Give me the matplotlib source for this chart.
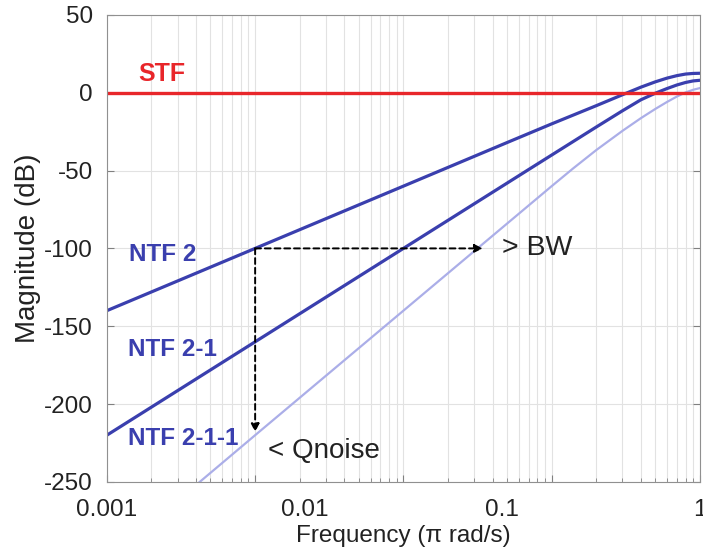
import numpy as np
import matplotlib
matplotlib.use('Agg')
import matplotlib.pyplot as plt
from matplotlib.ticker import LogLocator, NullLocator, NullFormatter

plt.rcParams['font.family'] = ['Liberation Sans', 'DejaVu Sans']
plt.rcParams['axes.unicode_minus'] = False

# curves (frequency in grid units, magnitude in dB)
stf_f = [1e-4, 1.0]
stf_db = [0, 0]

ntf2_f = [1e-4, 1e-3, 1e-2, 0.05, 0.1, 0.2, 0.3, 0.4, 0.5, 0.6, 0.7, 0.8, 0.9, 1.0]
ntf2_db = [-140, -100, -60, -32, -20, -8.3, -1.3, 3.6, 7.0, 9.4, 11.0, 12.0, 12.4, 12.5]

ntf21_f = [1e-4, 1e-3, 1e-2, 0.07, 0.13, 0.2, 0.3, 0.4, 0.5, 0.6, 0.7, 0.8, 0.9, 1.0]
ntf21_db = [-220, -160, -100, -49.3, -33.2, -22, -11.6, -4.5, -0.3, 2.7, 5, 6.6, 7.6, 8]

ntf211_f = [3e-4, 1e-3, 1e-2, 0.0316, 0.1, 0.14, 0.2, 0.3, 0.4, 0.5, 0.6, 0.7, 0.8, 0.9, 1.0]
ntf211_db = [-262, -220, -140, -100, -60, -48.5, -36.8, -24.5, -16.3, -10.4, -5.9, -2.4, 0.2, 1.9, 3]

label_ticks = [1e-3, 1e-2, 1e-1, 1]
label_text = ['0.001', '0.01', '0.1', '1']
y_ticks = [50, 0, -50, -100, -150, -200, -250]

blue = '#3a3fae'
light_blue = '#abaee8'
red = '#e8262a'

fig = plt.figure(figsize=(7.03, 5.52), dpi=100)
ax = fig.add_axes([0.152, 0.127, 0.8437, 0.846])

ax.plot(ntf211_f, ntf211_db, color=light_blue, lw=1.6)
ax.plot(ntf21_f, ntf21_db, color=blue, lw=2.3)
ax.plot(ntf2_f, ntf2_db, color=blue, lw=2.3)
ax.plot(stf_f, stf_db, color=red, lw=2.4)

ax.set_xscale('log')
ax.set_xlim(1e-4, 1)
ax.set_ylim(-250, 50)
ax.set_yticks(y_ticks)
ax.set_yticklabels([str(v) for v in y_ticks])
ax.xaxis.set_major_locator(LogLocator(base=10, numticks=10))
ax.xaxis.set_minor_locator(LogLocator(base=10, subs=np.arange(2, 10), numticks=20))
ax.xaxis.set_minor_formatter(NullFormatter())
ax.grid(True, which='both', color='#e2e2e2', lw=0.8)
ax.set_axisbelow(True)
ax.tick_params(which='both', direction='in', top=True, right=True,
               labelbottom=False, colors='#808080', labelcolor='#222222',
               labelsize=17.5, pad=10)
ax.tick_params(which='major', length=5)
ax.tick_params(which='minor', length=3)
for s in ax.spines.values():
    s.set_color('#909090')
ax.set_ylabel('Magnitude (dB)', fontsize=20, color='#222222', labelpad=2)

# frequency labels as printed in the original (spread evenly over the axis)
ax2 = ax.twiny()
ax2.set_xscale('log')
ax2.set_xlim(1e-3, 1)
ax2.xaxis.set_ticks_position('bottom')
ax2.xaxis.set_label_position('bottom')
ax2.set_xticks(label_ticks)
ax2.set_xticklabels(label_text)
ax2.xaxis.set_minor_locator(NullLocator())
ax2.tick_params(length=0, labelsize=17.5, labelcolor='#222222', pad=12)
ax2.set_xlabel('Frequency (\u03c0 rad/s)', fontsize=17.5, color='#222222', labelpad=3)
for s in ax2.spines.values():
    s.set_visible(False)

# curve names
ax.text(2.35e-4, 12, 'STF', color=red, fontsize=18, fontweight='bold', ha='center', va='center')
ax.text(1.42e-4, -104, 'NTF 2', color=blue, fontsize=17.5, fontweight='bold', ha='left', va='center')
ax.text(1.38e-4, -165, 'NTF 2-1', color=blue, fontsize=17.5, fontweight='bold', ha='left', va='center')
ax.text(1.38e-4, -222, 'NTF 2-1-1', color=blue, fontsize=17.5, fontweight='bold', ha='left', va='center')

# dashed arrows
arrow = dict(arrowstyle='-|>', linestyle=(0, (3, 2)), color='black', lw=1.4,
             mutation_scale=12, shrinkA=0, shrinkB=0)
ax.annotate('', xy=(0.0343, -100), xytext=(0.001, -100), arrowprops=arrow)
ax.annotate('', xy=(0.001, -218), xytext=(0.001, -100), arrowprops=arrow)
ax.text(0.046, -100, '> BW', fontsize=20.5, color='#222222', ha='left', va='center')
ax.text(0.00122, -230, '< Qnoise', fontsize=20, color='#222222', ha='left', va='center')

fig.savefig('out.png', dpi=100)
